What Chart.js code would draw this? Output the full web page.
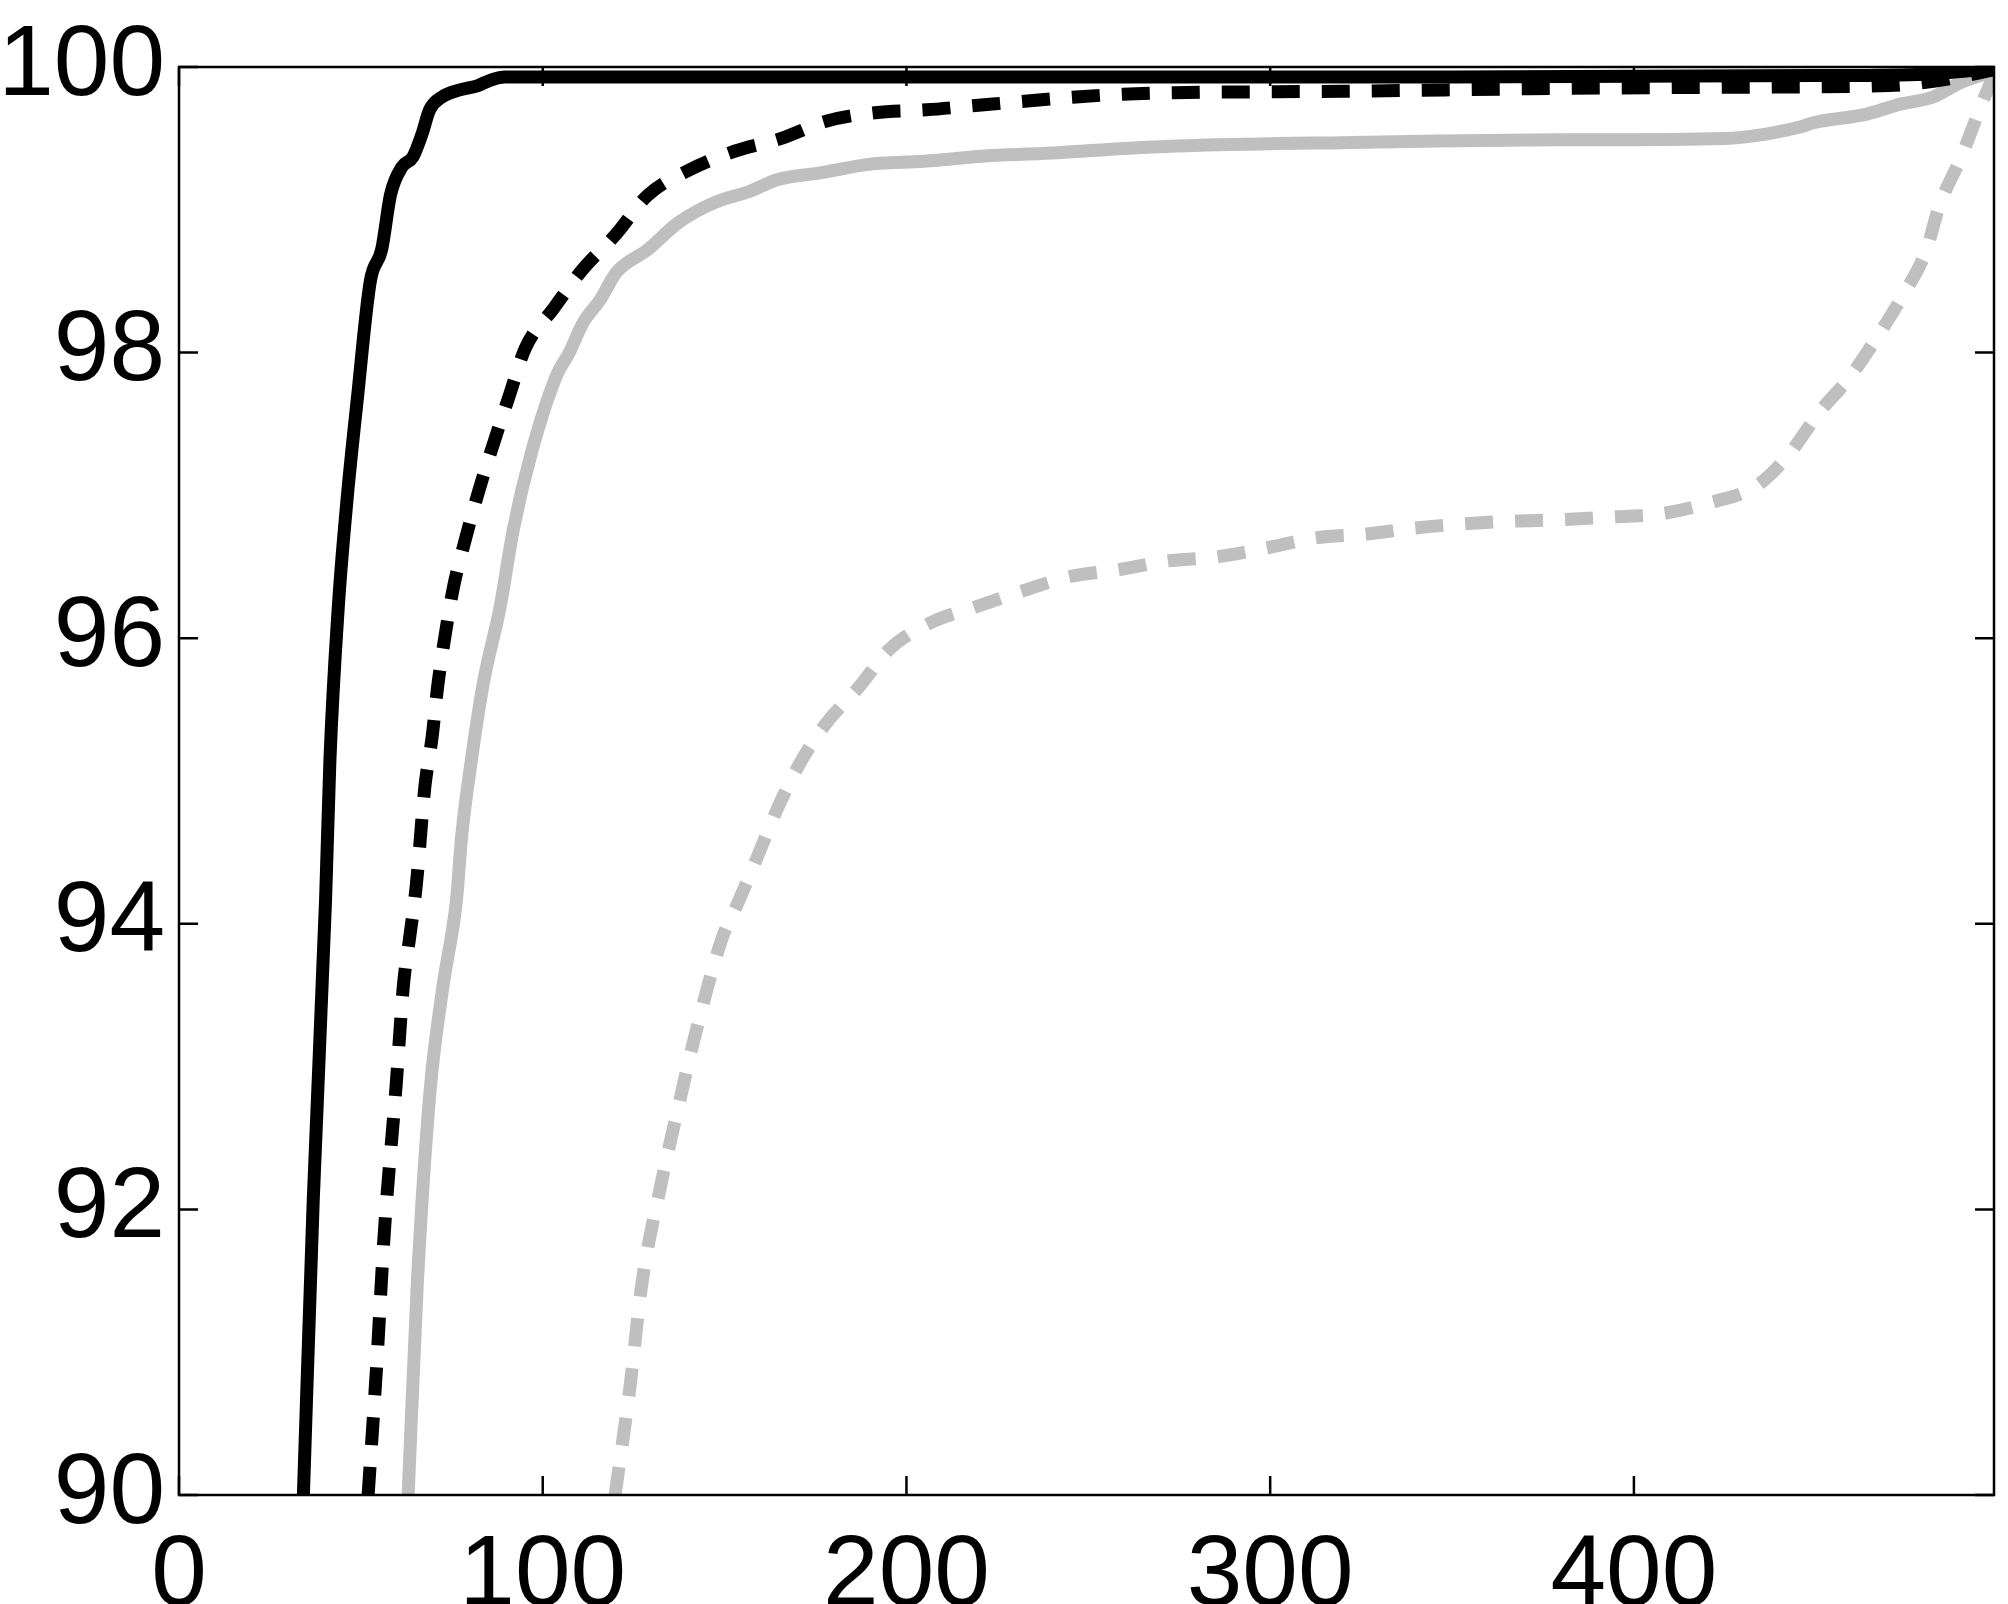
<!DOCTYPE html>
<html>
<head>
<meta charset="utf-8">
<script src="https://cdn.jsdelivr.net/npm/chart.js@4.4.1/dist/chart.umd.min.js"></script>
<style>
  html, body { margin: 0; padding: 0; background: #fff; }
  #wrap { width: 2008px; height: 1604px; }
</style>
</head>
<body>
<div id="wrap"><canvas id="curvas" width="2008" height="1604"></canvas></div>
<script>
// valores
const xPretoCheio = [34.2, 36.9, 40.3, 41.5, 43.8, 46.2, 49.0, 52.6, 55.7, 58.2, 61.3, 64.3, 66.8, 68.9, 72.3, 77.2, 82.2, 85.9, 89.5, 150, 250, 350, 450, 480, 499];
const yPretoCheio = [90, 92.06, 94.17, 95.15, 96.22, 96.97, 97.67, 98.5, 98.72, 99.11, 99.30, 99.37, 99.53, 99.70, 99.79, 99.84, 99.87, 99.91, 99.93, 99.93, 99.93, 99.93, 99.94, 99.95, 99.99];

const xPretoTrac = [52.0, 54.4, 56.4, 59.7, 61.7, 63.5, 65.2, 67.6, 69.6, 71.1, 73.1, 75.4, 78.6, 82.4, 86.3, 90.7, 95.2, 103, 110.9, 120.2, 128.8, 140.4, 152.7, 165.6, 177.9, 191.4, 205.5, 219, 232.5, 246.6, 259.5, 273.6, 320, 380, 440, 470, 485, 499];
const yPretoTrac = [90, 90.93, 91.82, 92.87, 93.57, 93.92, 94.26, 94.96, 95.31, 95.66, 96.01, 96.35, 96.68, 97.03, 97.35, 97.69, 98.03, 98.31, 98.58, 98.83, 99.10, 99.28, 99.41, 99.50, 99.62, 99.68, 99.70, 99.73, 99.76, 99.79, 99.81, 99.82, 99.83, 99.85, 99.86, 99.87, 99.91, 99.98];

const xCinzaCheio = [63.0, 65.5, 69.0, 72.5, 76.3, 77.7, 80.4, 83.7, 88.3, 91.9, 96.9, 103.8, 107.3, 111.1, 115.8, 120.2, 128.8, 137.3, 147.2, 157, 164.4, 176.6, 190.1, 204.8, 223.3, 241.7, 260.1, 279.6, 320, 380, 425, 445.7, 449.3, 464, 473.2, 482.3, 489.7, 499];
const yCinzaCheio = [90, 91.47, 92.82, 93.55, 94.17, 94.61, 95.15, 95.69, 96.22, 96.76, 97.30, 97.84, 98.0, 98.21, 98.37, 98.56, 98.72, 98.91, 99.05, 99.13, 99.21, 99.26, 99.32, 99.34, 99.38, 99.40, 99.43, 99.45, 99.47, 99.49, 99.50, 99.58, 99.61, 99.67, 99.74, 99.79, 99.89, 99.97];

const xCinzaTrac = [119.9, 124, 127.2, 132.3, 138.2, 141.4, 149.2, 153.9, 159.2, 164.4, 170.4, 177.5, 187, 195.2, 206.8, 219.1, 231.8, 244.7, 258.4, 271.5, 285.3, 298.6, 311.8, 326.5, 339.3, 352.6, 366.4, 380.1, 394.3, 407.2, 421, 433.3, 442.1, 450.9, 459.4, 466.9, 473.7, 480.3, 484, 490, 495, 499];
const yCinzaTrac = [90, 90.76, 91.47, 92.15, 92.82, 93.17, 93.89, 94.16, 94.48, 94.80, 95.11, 95.39, 95.66, 95.92, 96.11, 96.22, 96.33, 96.43, 96.48, 96.54, 96.57, 96.63, 96.70, 96.73, 96.77, 96.80, 96.82, 96.83, 96.85, 96.87, 96.95, 97.06, 97.27, 97.58, 97.83, 98.11, 98.39, 98.71, 99.03, 99.37, 99.70, 99.95];

const xMarcas = [0, 100, 200, 300, 400];
const yMarcas = [90, 92, 94, 96, 98, 100];
const xMin = 0, xMax = 499;
const yMin = 90, yMax = 100;

const pontos = (xs, ys) => xs.map((x, i) => ({ x: x, y: ys[i] }));

const cinza = 'rgb(191,191,191)';
const tracejado = [28, 22];

// caixa e ticks para dentro, estilo matlab
const caixa = {
  id: 'caixa',
  afterDatasetsDraw(chart) {
    const { ctx, chartArea: a, scales } = chart;
    const tl = 19;
    ctx.save();
    ctx.strokeStyle = '#000';
    ctx.lineWidth = 2.5;
    ctx.strokeRect(a.left, a.top, a.right - a.left, a.bottom - a.top);
    ctx.beginPath();
    scales.x.ticks.forEach(t => {
      const px = scales.x.getPixelForValue(t.value);
      ctx.moveTo(px, a.bottom); ctx.lineTo(px, a.bottom - tl);
      ctx.moveTo(px, a.top); ctx.lineTo(px, a.top + tl);
    });
    scales.y.ticks.forEach(t => {
      const py = scales.y.getPixelForValue(t.value);
      ctx.moveTo(a.left, py); ctx.lineTo(a.left + tl, py);
      ctx.moveTo(a.right, py); ctx.lineTo(a.right - tl, py);
    });
    ctx.stroke();
    ctx.restore();
  }
};

const serie = (dados, cor, dash) => ({
  data: dados,
  borderColor: cor,
  borderWidth: 13,
  borderDash: dash,
  borderCapStyle: 'butt',
  borderJoinStyle: 'round',
  pointRadius: 0,
  cubicInterpolationMode: 'monotone',
  clip: 0,
  fill: false
});

new Chart(document.getElementById('curvas'), {
  type: 'line',
  data: {
    datasets: [
      serie(pontos(xPretoCheio, yPretoCheio), '#000', []),
      serie(pontos(xPretoTrac, yPretoTrac), '#000', tracejado),
      serie(pontos(xCinzaCheio, yCinzaCheio), cinza, []),
      serie(pontos(xCinzaTrac, yCinzaTrac), cinza, tracejado)
    ]
  },
  options: {
    responsive: false,
    animation: false,
    events: [],
    layout: { padding: { top: 67, right: 14, left: 0, bottom: 0 } },
    plugins: {
      legend: { display: false },
      tooltip: { enabled: false }
    },
    scales: {
      x: {
        type: 'linear',
        min: xMin,
        max: xMax,
        grid: { display: false, drawTicks: false },
        border: { display: false },
        afterBuildTicks(s) { s.ticks = xMarcas.map(v => ({ value: v })); },
        ticks: {
          color: '#000',
          padding: 22,
          maxRotation: 0,
          autoSkip: false,
          font: { family: 'Liberation Sans', size: 100 }
        },
        afterFit(s) {
          s.height = 109;
          s.paddingLeft = 0;
          s.paddingRight = 0;
        }
      },
      y: {
        min: yMin,
        max: yMax,
        grid: { display: false, drawTicks: false },
        border: { display: false },
        afterBuildTicks(s) { s.ticks = yMarcas.map(v => ({ value: v })); },
        ticks: {
          color: '#000',
          padding: 14,
          autoSkip: false,
          font: { family: 'Liberation Sans', size: 100 }
        },
        afterFit(s) {
          s.width = 179;
          s.paddingTop = 0;
          s.paddingBottom = 0;
        }
      }
    }
  },
  plugins: [caixa]
});
</script>
</body>
</html>
